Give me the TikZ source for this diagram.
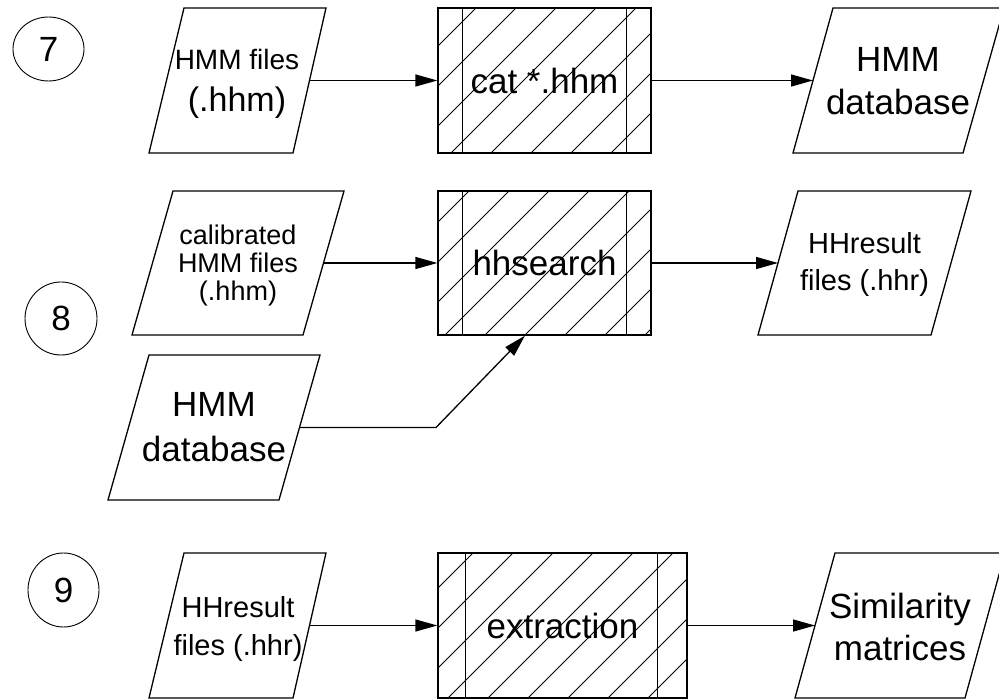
\documentclass[tikz,border=0pt]{standalone}
\usepackage{fontspec}
\setmainfont{Liberation Sans}
\usetikzlibrary{arrows.meta,shapes.geometric}

\tikzset{
  outline/.style={line width=1.3pt, line join=miter},
  hatchline/.style={line width=0.8pt},
  flow/.style={line width=1.3pt, -{Triangle[length=22pt,width=12pt]}},
  txt/.style={inner sep=0pt, anchor=base},
  stepnum/.style={draw, line width=0.9pt, ellipse, inner sep=0pt,
    font=\fontsize{35}{42}\selectfont},
  procbox/.style={draw, line width=1.3pt, rectangle, inner sep=0pt,
    font=\fontsize{35}{42}\selectfont},
}

% diagonal hatching inside a rectangle: x1 y1 x2 y2 first-offset count
\newcommand{\hatchfill}[6]{%
  \begin{scope}
    \clip (#1,#2) rectangle (#3,#4);
    \foreach \k in {0,...,#6}
      \draw[hatchline] ({#5+40*\k-#4},#4) -- ({#5+40*\k-#2},#2);
  \end{scope}}

\begin{document}
\begin{tikzpicture}[x=1pt,y=-1pt]
\useasboundingbox (0,0) rectangle (999,700);
\clip (0,0) rectangle (999,700);

% ---------- step 7 ----------
\node[stepnum, minimum width=71pt, minimum height=64pt] (s7) at (48.5,49) {7};

\draw[outline] (184,8) -- (326,8) -- (293,153) -- (149,153) -- cycle;
\node[txt, font=\fontsize{28}{34}\selectfont] (in7a) at (237,70) {HMM files};
\node[txt, font=\fontsize{34}{40}\selectfont] (in7b) at (237,112) {(.hhm)};
\coordinate (in7-e) at (309.5,80.5);

\hatchfill{438}{8}{651}{153}{444}{10}
\node[procbox, minimum width=213pt, minimum height=145pt] (cat) at (544.5,80.5) {cat *.hhm};
\draw[outline] ([xshift=25pt]cat.north west) -- ([xshift=25pt]cat.south west);
\draw[outline] ([xshift=-25pt]cat.north east) -- ([xshift=-25pt]cat.south east);

\draw[outline] (833,8) -- (1004,8) -- (963,153) -- (793,153) -- cycle;
\node[txt, font=\fontsize{35}{42}\selectfont] (out7a) at (898,72) {HMM};
\node[txt, font=\fontsize{35}{42}\selectfont] (out7b) at (898,115) {database};
\coordinate (out7-w) at (813,80.5);

\draw[flow] (in7-e) -- (cat.west);
\draw[flow] (cat.east) -- (out7-w);

% ---------- step 8 ----------
\node[stepnum, minimum width=72pt, minimum height=73pt] (s8) at (61,318.5) {8};

\draw[outline] (173,191) -- (344,191) -- (303,335) -- (132,335) -- cycle;
\node[txt, font=\fontsize{27}{33}\selectfont] (cal1) at (238,245) {calibrated};
\node[txt, font=\fontsize{27}{33}\selectfont] (cal2) at (238,273) {HMM files};
\node[txt, font=\fontsize{27}{33}\selectfont] (cal3) at (238,301) {(.hhm)};
\coordinate (cal-e) at (323.5,263);

\draw[outline] (149,355) -- (320,355) -- (279,500) -- (108,500) -- cycle;
\node[txt, font=\fontsize{35}{42}\selectfont] (db8a) at (214,417) {HMM};
\node[txt, font=\fontsize{35}{42}\selectfont] (db8b) at (214,462) {database};
\coordinate (db8-e) at (299.5,427.5);
\coordinate (db8-bend) at (436,427.5);

\hatchfill{438}{191}{651}{335}{620}{10}
\node[procbox, minimum width=213pt, minimum height=144pt] (hh) at (544.5,263) {hhsearch};
\draw[outline] ([xshift=25pt]hh.north west) -- ([xshift=25pt]hh.south west);
\draw[outline] ([xshift=-25pt]hh.north east) -- ([xshift=-25pt]hh.south east);

\draw[outline] (798,191) -- (971,191) -- (931,335) -- (758,335) -- cycle;
\node[txt, font=\fontsize{29}{35}\selectfont] (res8a) at (864.5,254) {HHresult};
\node[txt, font=\fontsize{29}{35}\selectfont] (res8b) at (864.5,291) {files (.hhr)};
\coordinate (res8-w) at (778,263);

\draw[flow] (cal-e) -- (hh.west);
\draw[flow] (hh.east) -- (res8-w);
\draw[flow] (db8-e) -- (db8-bend) -- ([xshift=-19.5pt]hh.south);

% ---------- step 9 ----------
\node[stepnum, minimum width=71pt, minimum height=74pt] (s9) at (63.5,590) {9};

\draw[outline] (184,553) -- (326,553) -- (293,698) -- (149,698) -- cycle;
\node[txt, font=\fontsize{29}{35}\selectfont] (res9a) at (238,617) {HHresult};
\node[txt, font=\fontsize{29}{35}\selectfont] (res9b) at (238,655) {files (.hhr)};
\coordinate (res9-e) at (309.5,625.5);

\hatchfill{438}{553}{687}{698}{986}{11}
\node[procbox, minimum width=249pt, minimum height=145pt] (ext) at (562.5,625.5) {extraction};
\draw[outline] ([xshift=28pt]ext.north west) -- ([xshift=28pt]ext.south west);
\draw[outline] ([xshift=-30pt]ext.north east) -- ([xshift=-30pt]ext.south east);

\draw[outline] (835,553) -- (1005,553) -- (965,698) -- (795,698) -- cycle;
\node[txt, font=\fontsize{35}{42}\selectfont] (sim1) at (900,618) {Similarity};
\node[txt, font=\fontsize{35}{42}\selectfont] (sim2) at (900,660) {matrices};
\coordinate (sim-w) at (815,625.5);

\draw[flow] (res9-e) -- (ext.west);
\draw[flow] (ext.east) -- (sim-w);
\end{tikzpicture}
\end{document}
